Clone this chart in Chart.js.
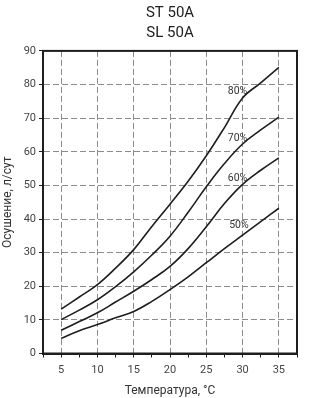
<!DOCTYPE html>
<html>
<head>
<meta charset="utf-8">
<script src="https://cdn.jsdelivr.net/npm/chart.js@4.4.1/dist/chart.umd.min.js"></script>
<style>
  html, body { margin: 0; padding: 0; background: #fff; }
  #wrap { width: 334px; height: 398px; }
</style>
</head>
<body>
<div id="wrap"><canvas id="chart" width="334" height="398"></canvas></div>
<script>
// temperature, °C
const tempsC = [5, 7.5, 10, 12.5, 15, 17.5, 20, 22.5, 25, 27.5, 30, 32.5, 35];
// dehumidification, l/day, per relative humidity
const rh80 = [13.2, 16.8, 20.5, 25.4, 30.9, 37.8, 44.4, 51.2, 58.8, 67.2, 76.0, 80.5, 85.1];
const rh70 = [10.1, 12.9, 16.0, 19.9, 24.3, 29.3, 34.9, 42.0, 49.6, 56.5, 62.3, 66.5, 70.3];
const rh60 = [6.9, 9.5, 12.1, 15.3, 18.5, 22.0, 25.9, 31.2, 37.7, 44.6, 50.3, 54.5, 58.2];
const rh50 = [4.5, 6.8, 8.6, 10.6, 12.5, 15.5, 19.0, 22.8, 27.0, 31.2, 35.2, 39.2, 43.2];
const seriesNames = ['80%', '70%', '60%', '50%'];
const xTicks = [5, 10, 15, 20, 25, 30, 35];
const yTicks = [0, 10, 20, 30, 40, 50, 60, 70, 80, 90];

// where the curve names sit (data units)
const labelSpots = [
  { x: 29.3, y: 78 },
  { x: 29.3, y: 64 },
  { x: 29.3, y: 52 },
  { x: 29.5, y: 38 }
];

const FONT = 'Roboto, "Noto Sans", sans-serif';
const INK = '#1e1e1e';
const GRID = '#8c8c8c';

function toPoints(ys) {
  return tempsC.map((t, i) => ({ x: t, y: ys[i] }));
}

// frame round the plot + curve names
const framePlugin = {
  id: 'frame',
  afterDraw(chart) {
    const { ctx, chartArea: a, scales } = chart;
    ctx.save();
    ctx.strokeStyle = INK;
    ctx.lineWidth = 2;
    ctx.strokeRect(a.left, a.top, a.right - a.left, a.bottom - a.top);
    ctx.font = '10.5px ' + FONT;
    ctx.fillStyle = '#333';
    ctx.textAlign = 'center';
    ctx.textBaseline = 'middle';
    labelSpots.forEach((p, i) => {
      ctx.fillText(seriesNames[i], scales.x.getPixelForValue(p.x), scales.y.getPixelForValue(p.y));
    });
    ctx.restore();
  }
};

const isMajor = v => xTicks.includes(v);

new Chart(document.getElementById('chart'), {
  type: 'line',
  data: {
    datasets: [rh80, rh70, rh60, rh50].map((ys, i) => ({
      label: seriesNames[i],
      data: toPoints(ys),
      borderColor: INK,
      borderWidth: 1.6,
      pointRadius: 0,
      fill: false,
      tension: 0.4
    }))
  },
  options: {
    responsive: false,
    animation: false,
    layout: { padding: { right: 37 } },
    plugins: {
      legend: { display: false },
      tooltip: { enabled: false },
      title: {
        display: true,
        fullSize: false,
        text: ['ST 50A', 'SL 50A'],
        color: '#222',
        font: { family: FONT, size: 15, weight: 'normal', lineHeight: 1.33 },
        padding: { top: 3, bottom: 8 }
      }
    },
    scales: {
      x: {
        type: 'linear',
        min: 2.5,
        max: 37.5,
        afterBuildTicks(scale) {
          const t = [];
          for (let v = 2.5; v <= 37.5; v += 2.5) t.push({ value: v });
          scale.ticks = t;
        },
        afterFit(scale) { scale.height = 44.5; },
        ticks: {
          autoSkip: false,
          maxRotation: 0,
          padding: 6,
          color: '#444',
          font: { family: FONT, size: 11 },
          callback: v => (isMajor(v) ? String(v) : '')
        },
        grid: {
          color: c => (isMajor(c.tick && c.tick.value) ? GRID : 'rgba(0,0,0,0)'),
          lineWidth: 1,
          tickLength: 4,
          tickColor: INK,
          tickWidth: 1,
          tickBorderDash: []
        },
        border: { display: true, color: INK, width: 2, dash: [6, 3] },
        title: {
          display: true,
          text: 'Температура, °C',
          color: '#333',
          font: { family: FONT, size: 12 },
          padding: { top: 4, bottom: 0 }
        }
      },
      y: {
        min: 0,
        max: 90,
        afterBuildTicks(scale) {
          scale.ticks = yTicks.map(v => ({ value: v }));
        },
        afterFit(scale) { scale.width = 43; },
        ticks: {
          padding: 3,
          color: '#444',
          font: { family: FONT, size: 11 }
        },
        grid: {
          color: c => {
            const v = c.tick && c.tick.value;
            return v === 0 || v === 90 ? 'rgba(0,0,0,0)' : GRID;
          },
          lineWidth: 1,
          tickLength: 4,
          tickColor: INK,
          tickWidth: 1,
          tickBorderDash: []
        },
        border: { display: true, color: INK, width: 2, dash: [6, 3] },
        title: {
          display: true,
          text: 'Осушение, л/сут',
          color: '#333',
          font: { family: FONT, size: 12 },
          padding: { top: 1, bottom: 2 }
        }
      }
    }
  },
  plugins: [framePlugin]
});
</script>
</body>
</html>
